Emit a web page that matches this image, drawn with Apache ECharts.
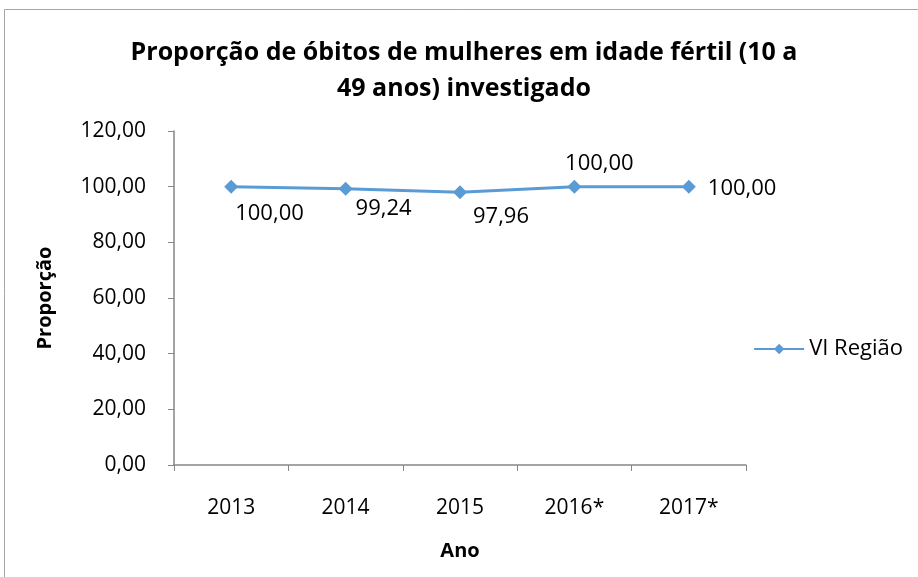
<!DOCTYPE html>
<html>
<head>
<meta charset="utf-8">
<script src="https://cdn.jsdelivr.net/npm/echarts@6/dist/echarts.min.js"></script>
<style>
  html, body { margin: 0; padding: 0; background: #ffffff; }
  #chart { width: 918px; height: 577px; }
</style>
</head>
<body>
<div id="chart"></div>
<script>
var anos = ["2013", "2014", "2015", "2016*", "2017*"];
var proporcao = [100.00, 99.24, 97.96, 100.00, 100.00];
var yTicks = [0, 20, 40, 60, 80, 100, 120];

// where each value label sits, Excel placed them by hand
var labelPos = [[11, 23], [17, 16], [20, 20], [32, -27], [26, -2]];
var labelAlign = ["left", "left", "left", "center", "left"];

var fonte = "'Open Sans', 'Liberation Sans', sans-serif";
var fmt = function (v) { return v.toFixed(2).replace(".", ","); };

var chart = echarts.init(document.getElementById("chart"));
chart.setOption({
  backgroundColor: "#ffffff",
  animation: false,
  textStyle: { fontFamily: fonte },
  graphic: [{
    type: "rect",
    shape: { x: 4.5, y: 9.5, width: 1000, height: 1000 },
    style: { fill: "none", stroke: "#a6a6a6", lineWidth: 1 },
    silent: true
  }],
  title: {
    text: "Proporção de óbitos de mulheres em idade fértil (10 a\n49 anos) investigado",
    left: 459,
    top: 30,
    textAlign: "center",
    textStyle: { fontSize: 25, fontWeight: "bold", color: "#000", lineHeight: 36, fontFamily: fonte }
  },
  legend: {
    right: 10,
    top: 333,
    orient: "vertical",
    itemWidth: 50,
    itemHeight: 13,
    itemGap: 6,
    textStyle: { fontSize: 22, color: "#000", fontFamily: fonte },
    data: ["VI Região"]
  },
  grid: { left: 174, right: 172, top: 131, bottom: 112 },
  xAxis: {
    type: "category",
    data: anos,
    boundaryGap: true,
    name: "Ano",
    nameLocation: "middle",
    nameGap: 76,
    nameTextStyle: { fontSize: 20, fontWeight: "bold", color: "#000" },
    axisLine: { lineStyle: { color: "#868686", width: 1.5 } },
    axisTick: { show: true, length: 6, alignWithLabel: false, lineStyle: { color: "#868686" } },
    axisLabel: { fontSize: 21, color: "#000", margin: 33 },
    splitLine: { show: false }
  },
  yAxis: {
    type: "value",
    min: yTicks[0],
    max: yTicks[yTicks.length - 1],
    interval: 20,
    name: "Proporção",
    nameLocation: "middle",
    nameGap: 119,
    nameRotate: 90,
    nameTextStyle: { fontSize: 20, fontWeight: "bold", color: "#000" },
    axisLine: { show: true, lineStyle: { color: "#868686", width: 1.5 } },
    axisTick: { show: true, length: 6, lineStyle: { color: "#868686" } },
    axisLabel: { fontSize: 21, color: "#000", margin: 28, formatter: fmt },
    splitLine: { show: false }
  },
  series: [{
    name: "VI Região",
    type: "line",
    data: proporcao.map(function (v, i) {
      return { value: v, label: { position: labelPos[i], align: labelAlign[i] } };
    }),
    symbol: "diamond",
    symbolSize: 14,
    lineStyle: { color: "#5b9bd5", width: 3 },
    itemStyle: { color: "#5b9bd5" },
    label: {
      show: true,
      fontSize: 22,
      color: "#000",
      verticalAlign: "top",
      formatter: function (p) { return fmt(p.value); }
    }
  }]
});
</script>
</body>
</html>
